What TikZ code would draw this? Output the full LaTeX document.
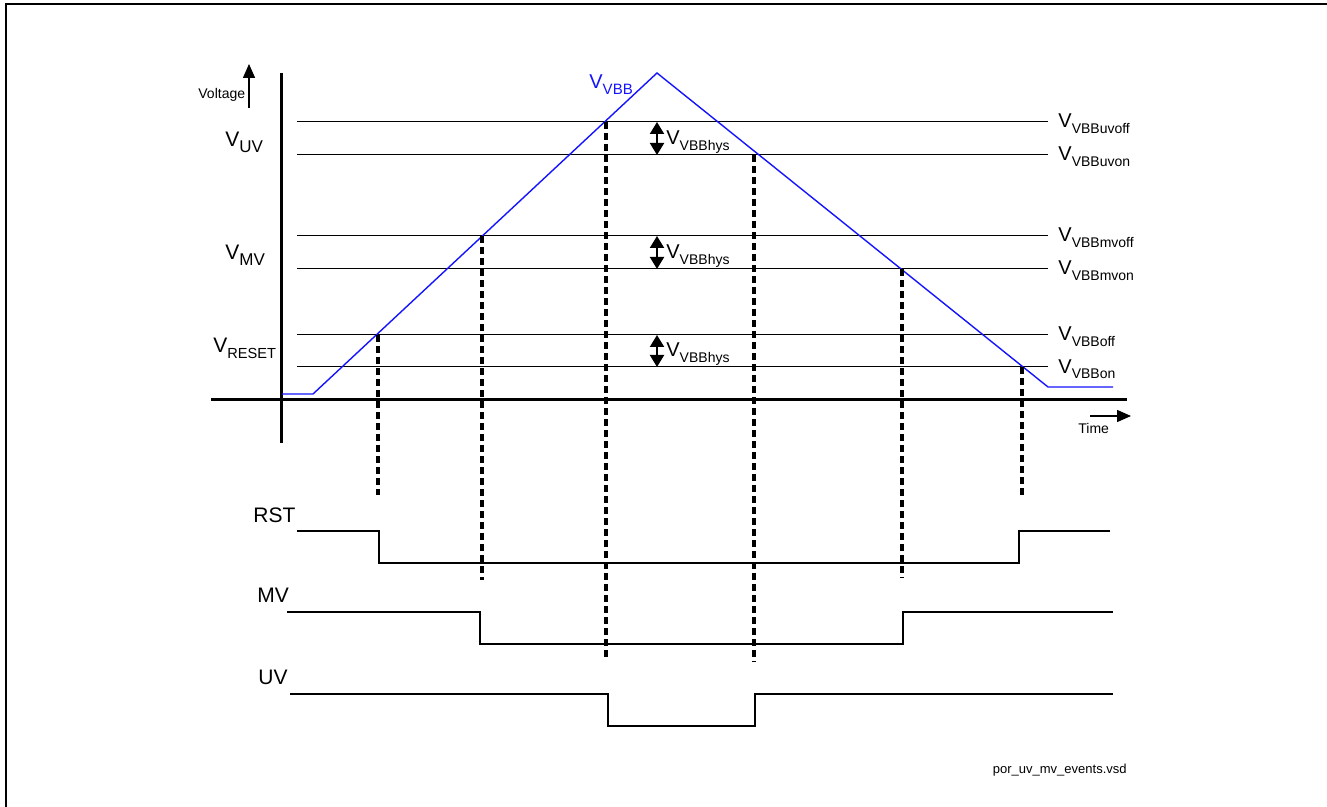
\documentclass[tikz,border=0pt]{standalone}
\usepackage{fontspec}
\setmainfont{Liberation Sans}
\usetikzlibrary{arrows.meta}

% V with a lowered, smaller index
\newcommand{\vsub}[2][7]{V\raisebox{-0.5ex}{\fontsize{#1}{#1}\selectfont #2}}

\begin{document}
\begin{tikzpicture}[x=0.5pt, y=-0.5pt,
    level/.style={line width=0.5pt},
    axis/.style={line width=1.5pt},
    vbb/.style={line width=0.7pt, draw={rgb,255:red,20;green,20;blue,255}},
    marker/.style={line width=1.9pt, dash pattern=on 3.5pt off 2pt},
    wave/.style={line width=0.75pt},
    hys/.style={{Triangle[length=6pt,width=7pt]}-{Triangle[length=6pt,width=7pt]}, line width=1pt},
    lbl/.style={font=\fontsize{10.5}{12}\selectfont, inner sep=0pt, anchor=base west},
    rlbl/.style={font=\fontsize{10}{12}\selectfont, inner sep=0pt, anchor=base west},
    small/.style={font=\fontsize{7}{8}\selectfont, inner sep=0pt, anchor=base west}
]
    \useasboundingbox (0,0) rectangle (1327,807);
    \draw [line width=1pt] (5.5,4.5) rectangle (1340,820);

    % axes
    \coordinate (ytop) at (281,73);
    \coordinate (ybot) at (281,443);
    \coordinate (xl) at (211,400);
    \coordinate (xr) at (1127,400);
    \draw [axis] (ytop) -- (ybot);
    \draw [axis] (xl) -- (xr);
    \node (volt) [small] at (198,99) {Voltage};
    \coordinate (va) at (249,108);
    \coordinate (vb) at (249,64);
    \draw [-{Triangle[length=7pt,width=6pt]}, line width=0.7pt] (va) -- (vb);
    \node (time) [small] at (1078,433) {Time};
    \coordinate (ta) at (1090,416);
    \coordinate (tb) at (1131,416);
    \draw [-{Triangle[length=7pt,width=6pt]}, line width=0.7pt] (ta) -- (tb);

    % threshold levels
    \foreach \y in {122,155,236,269,335,367}
        \draw [level] (297,\y) -- (1048,\y);

    \node (vuv) [lbl] at (225,147) {\vsub[8.5]{UV}};
    \node (vmv) [lbl] at (225,260) {\vsub[8.5]{MV}};
    \node (vrst) [lbl] at (213,353) {\vsub[7.3]{RESET}};

    \node (uvoff) [rlbl] at (1058,128) {\vsub{VBBuvoff}};
    \node (uvon) [rlbl] at (1058,161) {\vsub{VBBuvon}};
    \node (mvoff) [rlbl] at (1058,242) {\vsub{VBBmvoff}};
    \node (mvon) [rlbl] at (1058,275) {\vsub{VBBmvon}};
    \node (off) [rlbl] at (1058,341) {\vsub{VBBoff}};
    \node (on) [rlbl] at (1058,373) {\vsub{VBBon}};

    % supply ramp
    \draw [vbb] (282,394) -- (313,394) -- (657,73) -- (1048,387) -- (1113,387);
    \node (vbb) [rlbl, text={rgb,255:red,20;green,20;blue,255}] at (589,89) {\vsub[7.5]{VBB}};

    % hysteresis
    \foreach \ya/\yb in {122/155, 236/269, 335/367} {
        \draw [hys] (657,\ya) -- (657,\yb);
        \node [rlbl] at (666,\yb-10) {\vsub{VBBhys}};
    }

    % event markers
    \foreach \x/\ya/\yb in {378/335/495, 482/236/580, 606/122/658, 754/155/662, 902/269/578, 1022/367/497}
        \draw [marker] (\x,\ya) -- (\x,\yb);

    % digital outputs
    \node (rst) [lbl] at (253,522) {RST};
    \node (mv) [lbl] at (257,602) {MV};
    \node (uv) [lbl] at (258,684) {UV};
    \draw [wave] (297,531) -- (379,531) -- (379,563) -- (1019,563) -- (1019,531) -- (1110,531);
    \draw [wave] (287,612) -- (480,612) -- (480,644) -- (903,644) -- (903,612) -- (1113,612);
    \draw [wave] (290,694) -- (608,694) -- (608,726) -- (755,726) -- (755,694) -- (1113,694);

    \node (file) [font=\fontsize{6.5}{8}\selectfont, inner sep=0pt, anchor=base east] at (1127,773) {por\_uv\_mv\_events.vsd};
\end{tikzpicture}
\end{document}
